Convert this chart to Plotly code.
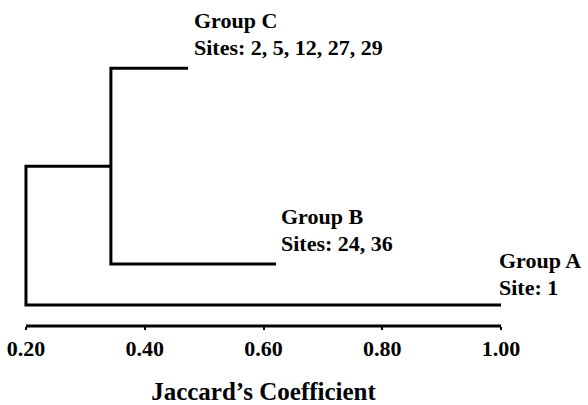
import plotly.graph_objects as go

# Leaves of the dendrogram (bottom to top) and their vertical slots
groups = ["Group A", "Group B", "Group C"]
sites = ["Site: 1", "Sites: 24, 36", "Sites: 2, 5, 12, 27, 29"]
leaf_pos = [0.0, 1.0, 5.78]

# Jaccard coefficient at which each branch ends, and the merge levels
leaf_end = [1.00, 0.621, 0.473]
merge_bc = 0.343   # Group B joins Group C
merge_root = 0.20  # Group A joins the B/C cluster

tick_vals = [0.20, 0.40, 0.60, 0.80, 1.00]
tick_text = ["0.20", "0.40", "0.60", "0.80", "1.00"]

FONT = "Liberation Serif"
LW = 3

fig = go.Figure()

yA, yB, yC = leaf_pos
y_bc = (yB + yC) / 2

# Cluster B/C: bracket from merge level out to each leaf
fig.add_trace(go.Scatter(
    x=[leaf_end[2], merge_bc, merge_bc, leaf_end[1]],
    y=[yC, yC, yB, yB],
    mode="lines", line=dict(color="black", width=LW), hoverinfo="skip"))

# Root: joins B/C cluster with Group A
fig.add_trace(go.Scatter(
    x=[merge_bc, merge_root, merge_root, leaf_end[0]],
    y=[y_bc, y_bc, yA, yA],
    mode="lines", line=dict(color="black", width=LW), hoverinfo="skip"))

# Leaf labels: group name above the list of sites
label_font = dict(family=FONT, size=22, color="black")
offsets = [(-4, 3), (3, 6), (4, 6)]   # (x, y) pixel offsets per leaf
for g, s, e, p, (dx, dy) in zip(groups, sites, leaf_end, leaf_pos, offsets):
    for txt, extra in ((s, 0), (g, 27)):
        fig.add_annotation(
            x=e, y=p, xref="x", yref="y", text=f"<b>{txt}</b>",
            showarrow=False, xanchor="left", yanchor="bottom", align="left",
            xshift=dx, yshift=dy + extra, font=label_font)

# Axis baseline spanning the labelled range
fig.add_shape(type="line", xref="x", yref="paper",
              x0=tick_vals[0], x1=tick_vals[-1], y0=0, y1=0,
              line=dict(color="black", width=LW))

fig.update_layout(
    width=588, height=405,
    margin=dict(l=23, r=84, t=60, b=79),
    paper_bgcolor="white", plot_bgcolor="white",
    showlegend=False,
    xaxis=dict(
        range=[0.195, 1.005], showgrid=False, zeroline=False, showline=False,
        automargin=False,
        tickvals=tick_vals, ticktext=[f"<b>{t}</b>" for t in tick_text],
        ticks="outside", ticklen=3, tickwidth=2, tickcolor="black",
        tickfont=dict(family=FONT, size=22, color="black"),
        title=dict(text="<b>Jaccard’s Coefficient</b>",
                   font=dict(family=FONT, size=25, color="black"),
                   standoff=24),
    ),
    yaxis=dict(range=[-0.51, 5.98], visible=False),
)

fig.write_html("out.html")
